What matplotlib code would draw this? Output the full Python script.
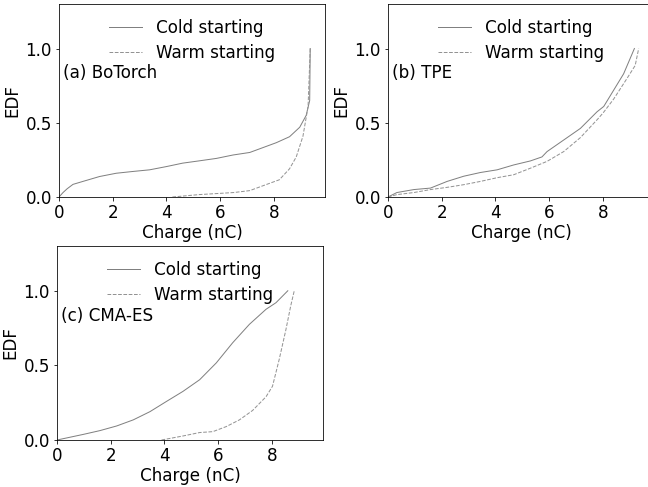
import numpy as np
import matplotlib
matplotlib.use("Agg")
import matplotlib.pyplot as plt

# (a) BoTorch
bo_cold_x = [0, 0.15, 0.3, 0.52, 0.89, 1.51, 2.13, 2.75, 3.37, 4.0, 4.6, 5.2, 5.86, 6.48, 7.1, 7.7, 8.09, 8.58, 8.96, 9.2, 9.33, 9.35]
bo_cold_y = [0, 0.03, 0.055, 0.085, 0.105, 0.138, 0.16, 0.172, 0.183, 0.205, 0.228, 0.243, 0.26, 0.283, 0.30, 0.34, 0.366, 0.406, 0.47, 0.55, 0.65, 1.0]
bo_warm_x = [4.22, 5.2, 6.5, 7.1, 7.7, 8.2, 8.58, 8.83, 9.08, 9.27, 9.35]
bo_warm_y = [0.0, 0.016, 0.03, 0.043, 0.083, 0.116, 0.19, 0.27, 0.41, 0.61, 1.0]

# (b) TPE
tpe_cold_x = [0, 0.33, 0.96, 1.58, 2.2, 2.82, 3.44, 4.06, 4.68, 5.3, 5.73, 5.92, 6.54, 7.16, 7.78, 8.03, 8.4, 8.77, 9.17]
tpe_cold_y = [0, 0.03, 0.05, 0.06, 0.105, 0.14, 0.165, 0.183, 0.216, 0.243, 0.27, 0.306, 0.384, 0.462, 0.574, 0.61, 0.72, 0.83, 1.0]
tpe_warm_x = [0, 0.33, 0.96, 1.58, 2.2, 2.82, 3.44, 4.06, 4.68, 5.3, 5.92, 6.54, 7.16, 7.78, 8.0, 8.4, 8.9, 9.2, 9.33]
tpe_warm_y = [0, 0.016, 0.03, 0.05, 0.065, 0.083, 0.105, 0.13, 0.15, 0.194, 0.24, 0.306, 0.4, 0.52, 0.565, 0.66, 0.8, 0.886, 1.0]

# (c) CMA-ES
cma_cold_x = [0, 0.99, 1.6, 2.22, 2.84, 3.46, 4.07, 4.69, 5.31, 5.93, 6.54, 7.16, 7.78, 8.15, 8.59]
cma_cold_y = [0, 0.038, 0.063, 0.094, 0.135, 0.19, 0.258, 0.326, 0.404, 0.517, 0.652, 0.775, 0.876, 0.92, 1.0]
cma_warm_x = [3.89, 4.69, 5.31, 5.8, 6.3, 6.79, 7.28, 7.78, 8.02, 8.27, 8.52, 8.7, 8.83]
cma_warm_y = [0.0, 0.027, 0.05, 0.056, 0.09, 0.135, 0.198, 0.29, 0.36, 0.54, 0.74, 0.9, 1.0]

panels = [
    ("(a) BoTorch", bo_cold_x, bo_cold_y, bo_warm_x, bo_warm_y),
    ("(b) TPE", tpe_cold_x, tpe_cold_y, tpe_warm_x, tpe_warm_y),
    ("(c) CMA-ES", cma_cold_x, cma_cold_y, cma_warm_x, cma_warm_y),
]

plt.rcParams["font.size"] = 16.7

DPI = 72
W, H = 648, 487
fig = plt.figure(figsize=(W / DPI, H / DPI), dpi=DPI)
# axes boxes in pixels: left, top, width, height
boxes = [(59, 4, 266, 193), (388, 4, 266, 193), (57, 246, 266, 194)]

for (label, cx, cy, wx, wy), (l, t, w, h) in zip(panels, boxes):
    ax = fig.add_axes([l / W, 1 - (t + h) / H, w / W, h / H])
    ax.plot(cx, cy, color="gray", lw=1, label="Cold starting")
    ax.plot(wx, wy, color="#939393", lw=1, ls="--", label="Warm starting")
    ax.set_xlim(0, 9.9)
    ax.set_ylim(0, 1.3)
    ax.set_xticks([0, 2, 4, 6, 8])
    ax.set_yticks([0, 0.5, 1.0])
    ax.set_xlabel("Charge (nC)", labelpad=2)
    ax.set_ylabel("EDF")
    ax.text(0.15, 0.8, label)
    ax.legend(loc="upper center", frameon=False, labelspacing=0.4)

fig.savefig("out.png", dpi=DPI)
